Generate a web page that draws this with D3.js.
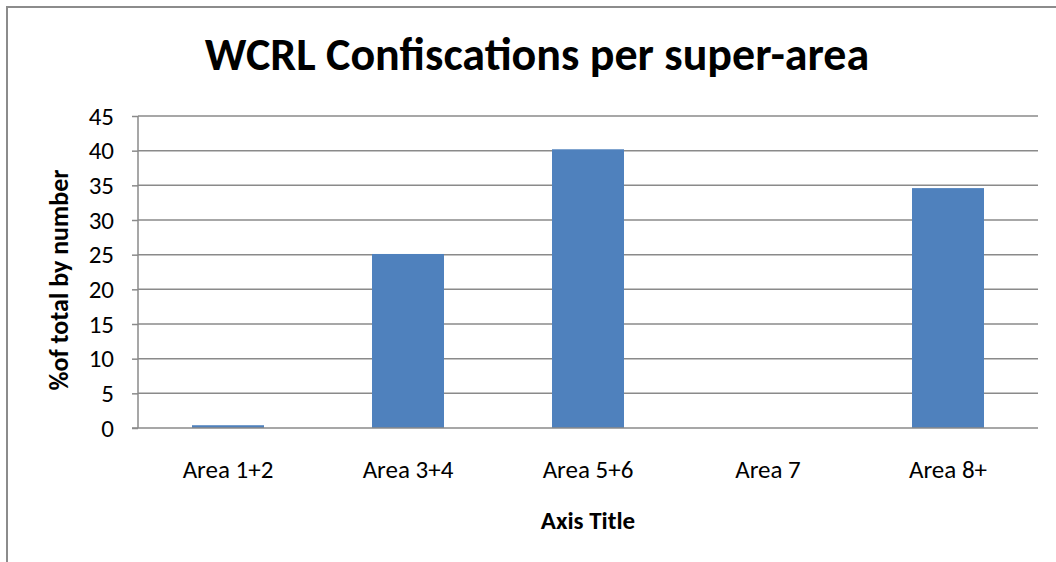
<!DOCTYPE html>
<html>
<head>
<meta charset="utf-8">
<script src="https://cdn.jsdelivr.net/npm/d3@7"></script>
<style>
  body { margin: 0; background: #fff; }
  text { font-family: Carlito, Calibri, Lato, sans-serif; fill: #000; }
</style>
</head>
<body>
<div id="chart"></div>
<script>
// Data
var categories = ["Area 1+2", "Area 3+4", "Area 5+6", "Area 7", "Area 8+"];
var values = [0.4, 25.1, 40.2, 0, 34.6];
var yTicks = [0, 5, 10, 15, 20, 25, 30, 35, 40, 45];

var chartTitle = "WCRL Confiscations per super-area";
var yTitle = "%of total by number";
var xTitle = "Axis Title";

// Set up SVG
var svgWidth = 1056;
var svgHeight = 562;

var margin = {
    top: 116,
    right: 18,
    bottom: 134,
    left: 138
};

var width = svgWidth - margin.left - margin.right;
var height = svgHeight - margin.top - margin.bottom;

var svg = d3.select("#chart")
    .append("svg")
    .attr("width", svgWidth)
    .attr("height", svgHeight);

// chart area border (runs off the right and bottom edges)
svg.append("rect")
    .attr("x", 7)
    .attr("y", 7)
    .attr("width", svgWidth + 20)
    .attr("height", svgHeight + 20)
    .attr("fill", "none")
    .attr("stroke", "#8c8c8c")
    .attr("stroke-width", 2);

var chartGroup = svg.append("g")
    .attr("transform", `translate(${margin.left}, ${margin.top})`);

// scales
var xScale = d3.scaleBand()
    .domain(categories)
    .range([0, width])
    .paddingInner(0.6)
    .paddingOuter(0.3);

var yScale = d3.scaleLinear()
    .domain([0, 45])
    .range([height, 0]);

// gridlines
chartGroup.selectAll(".grid")
    .data(yTicks.filter(d => d > 0))
    .enter()
    .append("line")
    .attr("x1", 0)
    .attr("x2", width)
    .attr("y1", d => yScale(d))
    .attr("y2", d => yScale(d))
    .attr("stroke", "#8a8a8a")
    .attr("stroke-width", 1.5);

// bars
chartGroup.selectAll(".bar")
    .data(values)
    .enter()
    .append("rect")
    .attr("x", (d, i) => xScale(categories[i]))
    .attr("y", d => yScale(d))
    .attr("width", xScale.bandwidth())
    .attr("height", d => height - yScale(d))
    .attr("fill", "#4f81bd");

// y axis
var leftAxis = d3.axisLeft(yScale)
    .tickValues(yTicks)
    .tickSize(6)
    .tickPadding(18);

var yAxis = chartGroup.append("g").call(leftAxis);
yAxis.select(".domain").remove();
yAxis.selectAll("line").attr("stroke", "#8a8a8a").attr("stroke-width", 1.5);
yAxis.selectAll("text")
    .style("font-size", "25px")
    .style("font-family", "Carlito, Calibri, Lato, sans-serif");

chartGroup.append("line")
    .attr("x1", 0)
    .attr("x2", 0)
    .attr("y1", 0)
    .attr("y2", height)
    .attr("stroke", "#8a8a8a")
    .attr("stroke-width", 1.5);

// x axis
var bottomAxis = d3.axisBottom(xScale)
    .tickSize(0)
    .tickPadding(32);

var xAxis = chartGroup.append("g")
    .attr("transform", `translate(0, ${height})`)
    .call(bottomAxis);
xAxis.select(".domain").remove();
xAxis.selectAll("text")
    .style("font-size", "25px")
    .style("font-family", "Carlito, Calibri, Lato, sans-serif");

chartGroup.append("line")
    .attr("x1", -6)
    .attr("x2", width)
    .attr("y1", height)
    .attr("y2", height)
    .attr("stroke", "#8a8a8a")
    .attr("stroke-width", 1.5);

// titles
svg.append("text")
    .attr("x", 537)
    .attr("y", 70)
    .attr("text-anchor", "middle")
    .style("font-size", "46px")
    .style("font-weight", "bold")
    .text(chartTitle);

svg.append("text")
    .attr("transform", "translate(68, 280) rotate(-90)")
    .attr("text-anchor", "middle")
    .style("font-size", "26px")
    .style("font-weight", "bold")
    .text(yTitle);

svg.append("text")
    .attr("x", margin.left + width / 2)
    .attr("y", 529)
    .attr("text-anchor", "middle")
    .style("font-size", "25px")
    .style("font-weight", "bold")
    .text(xTitle);
</script>
</body>
</html>
